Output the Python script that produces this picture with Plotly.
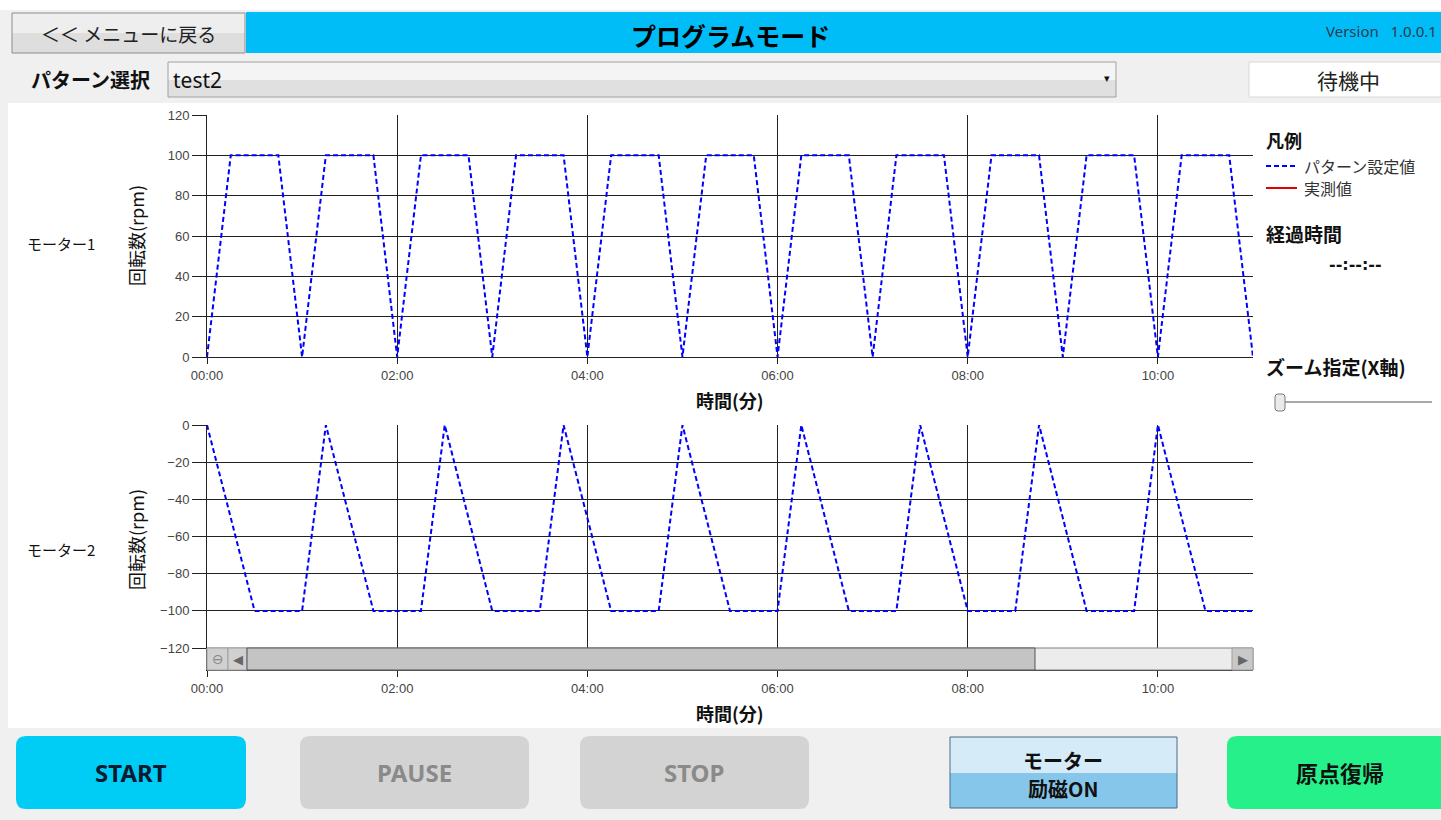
import plotly.graph_objects as go
from plotly.subplots import make_subplots

# --- data (time in minutes, speed in rpm) ---
motor1_time = [0, 0.25, 0.75, 1.0, 1.25, 1.75, 2.0, 2.25, 2.75, 3.0, 3.25, 3.75, 4.0,
               4.25, 4.75, 5.0, 5.25, 5.75, 6.0, 6.25, 6.75, 7.0, 7.25, 7.75, 8.0,
               8.25, 8.75, 9.0, 9.25, 9.75, 10.0, 10.25, 10.75, 11.0]
motor1_rpm = [0, 100, 100, 0, 100, 100, 0, 100, 100, 0, 100, 100, 0,
              100, 100, 0, 100, 100, 0, 100, 100, 0, 100, 100, 0,
              100, 100, 0, 100, 100, 0, 100, 100, 0]

motor2_time = [0, 0.5, 1.0, 1.25, 1.75, 2.25, 2.5, 3.0, 3.5, 3.75, 4.25, 4.75, 5.0,
               5.5, 6.0, 6.25, 6.75, 7.25, 7.5, 8.0, 8.5, 8.75, 9.25, 9.75, 10.0,
               10.5, 11.0]
motor2_rpm = [0, -100, -100, 0, -100, -100, 0, -100, -100, 0, -100, -100, 0,
              -100, -100, 0, -100, -100, 0, -100, -100, 0, -100, -100, 0,
              -100, -100]

x_tickvals = [0, 2, 4, 6, 8, 10]
x_ticktext = ['00:00', '02:00', '04:00', '06:00', '08:00', '10:00']
y1_tickvals = [0, 20, 40, 60, 80, 100, 120]
y2_tickvals = [0, -20, -40, -60, -80, -100, -120]

W, H = 1441, 820
JP = 'Noto Sans CJK JP'
LAT = 'Liberation Sans'


def px(x):
    return x / W


def py(y):
    return 1 - y / H


def rect(x0, y0, x1, y1, fill, line=None, layer='below', lw=1):
    return dict(type='rect', xref='paper', yref='paper',
                x0=px(x0), x1=px(x1), y0=py(y1), y1=py(y0),
                fillcolor=fill, layer=layer,
                line=dict(color=line or fill, width=lw if line else 0))


def rrect(x0, y0, x1, y1, r, fill, line=None, layer='below'):
    # rounded rectangle as an svg path in paper coords
    rx, ry = r / W, r / H
    a, b, c, d = px(x0), px(x1), py(y1), py(y0)
    path = (f'M{a + rx},{d} L{b - rx},{d} Q{b},{d} {b},{d - ry} '
            f'L{b},{c + ry} Q{b},{c} {b - rx},{c} L{a + rx},{c} '
            f'Q{a},{c} {a},{c + ry} L{a},{d - ry} Q{a},{d} {a + rx},{d} Z')
    return dict(type='path', xref='paper', yref='paper', path=path,
                fillcolor=fill, layer=layer,
                line=dict(color=line or fill, width=1 if line else 0))


def hline(x0, x1, y, color, width=1, dash='solid', layer='above'):
    return dict(type='line', xref='paper', yref='paper',
                x0=px(x0), x1=px(x1), y0=py(y), y1=py(y), layer=layer,
                line=dict(color=color, width=width, dash=dash))


def text(x, y, s, size=14, color='#000', bold=False, anchor='left', font=JP, angle=0):
    if bold:
        s = '<b>' + s + '</b>'
    return dict(xref='paper', yref='paper', x=px(x), y=py(y), text=s,
                showarrow=False, xanchor=anchor, yanchor='middle', textangle=angle,
                borderpad=0, font=dict(family=font, size=size, color=color))


fig = make_subplots(rows=2, cols=1)

line_style = dict(color='#0000ff', width=2, dash='5px,3px')
fig.add_trace(go.Scatter(x=motor1_time, y=motor1_rpm, mode='lines', line=line_style,
                         name='パターン設定値', showlegend=False), row=1, col=1)
fig.add_trace(go.Scatter(x=motor2_time, y=motor2_rpm, mode='lines', line=line_style,
                         name='パターン設定値', showlegend=False), row=2, col=1)

axis_common = dict(showline=True, linecolor='#222', linewidth=1, gridcolor='#222', gridwidth=1,
                   zeroline=False, ticks='outside', tickcolor='#222', automargin=False,
                   tickfont=dict(family=LAT, size=13, color='#444'))

fig.update_xaxes(range=[0, 11], tickvals=x_tickvals, ticktext=x_ticktext,
                 ticklen=6, showgrid=True, **axis_common)
fig.update_yaxes(ticklen=14, showgrid=True, **axis_common)

fig.update_layout(
    width=W, height=H,
    margin={'l': 0, 'r': 0, 't': 0, 'b': 0, 'pad': 0},
    paper_bgcolor='#f0f0f0',
    plot_bgcolor='rgba(0,0,0,0)',
    showlegend=False,
    xaxis={'domain': [px(207), px(1253)], 'anchor': 'y'},
    xaxis2={'domain': [px(207), px(1253)], 'anchor': 'y2'},
    yaxis={'domain': [py(357), py(115)], 'range': [0, 120], 'tickvals': y1_tickvals},
    yaxis2={'domain': [py(670), py(425)], 'range': [-131.8, 0], 'tickvals': y2_tickvals},
)

shapes = [
    # background regions
    rect(0, 0, W, 10, '#ffffff'),
    rect(8, 103, W, 728, '#ffffff'),
    # header bar
    rect(246, 12, W, 53, '#00bdf7'),
    rect(12, 13, 245, 33, '#eeeeee'),
    rect(12, 33, 245, 53, '#dedede'),
    rect(12, 13, 245, 53, 'rgba(0,0,0,0)', '#8c8c8c'),
    # combo box
    rect(168, 62, 1116, 80, '#f4f4f4'),
    rect(168, 80, 1116, 97, '#e0e0e0'),
    rect(168, 62, 1116, 97, 'rgba(0,0,0,0)', '#a0a0a0'),
    # status box
    rect(1249, 62, W, 97, '#ffffff', '#d8d8d8'),
    # legend samples
    hline(1266, 1297, 166, '#0000ff', 2, '5px,3px'),
    hline(1266, 1297, 188, '#e00000', 2),
    # zoom slider
    hline(1280, 1432, 402, '#a8a8a8', 2),
    rrect(1275, 394, 1285, 411, 3, '#eaeaea', '#7a7a7a', 'above'),
    # scrollbar of the lower chart
    rect(207, 648, 1253, 670, '#ececec', '#808080', 'above'),
    rect(207, 648, 228, 670, '#d0d0d0', '#a0a0a0', 'above'),
    rect(228, 648, 247, 670, '#d0d0d0', '#a0a0a0', 'above'),
    rect(247, 648, 1035, 670, '#c4c4c4', '#555555', 'above'),
    rect(1232, 648, 1253, 670, '#c8c8c8', '#a0a0a0', 'above'),
    # bottom buttons
    rrect(16, 736, 246, 809, 10, '#00cdf6'),
    rrect(300, 736, 529, 809, 10, '#d3d3d3'),
    rrect(580, 736, 809, 809, 10, '#d3d3d3'),
    rect(950, 737, 1177, 773, '#d6ebf8'),
    rect(950, 773, 1177, 808, '#86c6ea'),
    rect(950, 737, 1177, 808, 'rgba(0,0,0,0)', '#4a6a88'),
    rrect(1227, 736, 1460, 809, 10, '#26f08a'),
]

annotations = [
    text(128, 33, '＜＜ メニューに戻る', 19, '#222', anchor='center'),
    text(730, 35, 'プログラムモード', 25, '#000', True, 'center'),
    text(1438, 31, 'Version   1.0.0.1', 15, '#2a3a50', anchor='right', font='Noto Sans'),
    text(30, 80, 'パターン選択', 20, '#111', True),
    text(172, 80, 'test2', 21, '#111', font='Noto Sans'),
    text(1107, 79, '▾', 11, '#111', anchor='center', font='DejaVu Sans'),
    text(1348, 80, '待機中', 21, '#222', anchor='center'),
    # left side labels
    text(26, 243, 'モーター1', 15, '#111'),
    text(26, 549, 'モーター2', 15, '#111'),
    text(136, 236, '回転数(rpm)', 18, '#111', anchor='center', angle=-90),
    text(136, 540, '回転数(rpm)', 18, '#111', anchor='center', angle=-90),
    text(730, 400, '時間(分)', 18, '#111', True, 'center'),
    text(730, 713, '時間(分)', 18, '#111', True, 'center'),
    # right panel
    text(1265, 140, '凡例', 18, '#111', True),
    text(1303, 166, 'パターン設定値', 16, '#333'),
    text(1303, 188, '実測値', 16, '#333'),
    text(1265, 233, '経過時間', 19, '#111', True),
    text(1355, 264, '--:--:--', 16, '#111', True, 'center', font='DejaVu Sans'),
    text(1265, 367, 'ズーム指定(X軸)', 19, '#111', True),
    # scrollbar glyphs
    text(217.5, 659, '⊖', 14, '#888', anchor='center', font='DejaVu Sans'),
    text(237.5, 659, '◀', 13, '#666', anchor='center', font='DejaVu Sans'),
    text(1242.5, 659, '▶', 13, '#666', anchor='center', font='DejaVu Sans'),
    # buttons
    text(131, 772, 'START', 24, '#0a1a30', True, 'center', font='Noto Sans'),
    text(414, 772, 'PAUSE', 24, '#8a8a8a', True, 'center', font='Noto Sans'),
    text(694, 772, 'STOP', 24, '#8a8a8a', True, 'center', font='Noto Sans'),
    text(1063, 760, 'モーター', 20, '#111', True, 'center'),
    text(1063, 788, '励磁ON', 20, '#111', True, 'center'),
    text(1340, 772, '原点復帰', 22, '#111', True, 'center'),
]

fig.update_layout(shapes=shapes, annotations=annotations)

# page body margin would push the fixed-size figure out of the window
fig.write_html("out.html", config={'displayModeBar': False},
               post_script="document.body.style.margin='0';")
